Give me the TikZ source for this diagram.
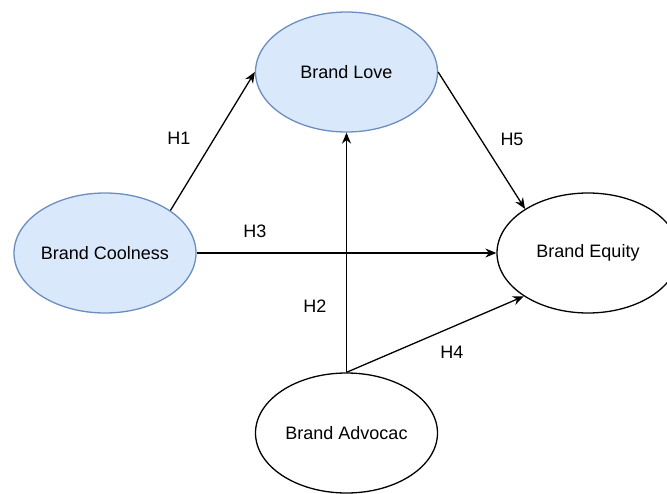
\documentclass[tikz,border=0pt]{standalone}
\usepackage{fontspec}
\setmainfont{Liberation Sans}
\usetikzlibrary{shapes.geometric,arrows.meta}
\definecolor{bfill}{HTML}{DAE8FC}
\definecolor{bstroke}{HTML}{6C8EBF}
\begin{document}
\begin{tikzpicture}[x=1pt,y=-1pt,
  ell/.style={ellipse,draw=black,line width=1.3pt,minimum width=182pt,minimum height=120pt,inner sep=0pt,font=\fontsize{18pt}{21pt}\selectfont},
  blue/.style={ell,fill=bfill,draw=bstroke},
  conn/.style={draw=black,line width=1.3pt,-{Stealth[length=11pt,width=9pt]}},
  lab/.style={font=\fontsize{18pt}{21pt}\selectfont,inner sep=0pt}]
\useasboundingbox (0,0) rectangle (667,493);
\node[blue] (love) at (346.5,72) {Brand Love};
\node[blue] (cool) at (105,253) {Brand Coolness};
\node[ell] (eq) at (588,253) {Brand Equity};
\node[ell] (adv) at (346.5,433) {Brand Advocac};
\draw[conn] (cool.33.5) -- (love.west);
\draw[conn] (love.east) -- (eq.145);
\draw[conn] (cool.east) -- (eq.west);
\draw[conn] (adv.north) -- (love.south);
\draw[conn] (adv.north) -- (eq.214);
\node[lab] (h1) at (179,138) {H1};
\node[lab] (h3) at (255,231) {H3};
\node[lab] (h5) at (512,139) {H5};
\node[lab] (h2) at (315,306) {H2};
\node[lab] (h4) at (452,352) {H4};
\end{tikzpicture}
\end{document}
